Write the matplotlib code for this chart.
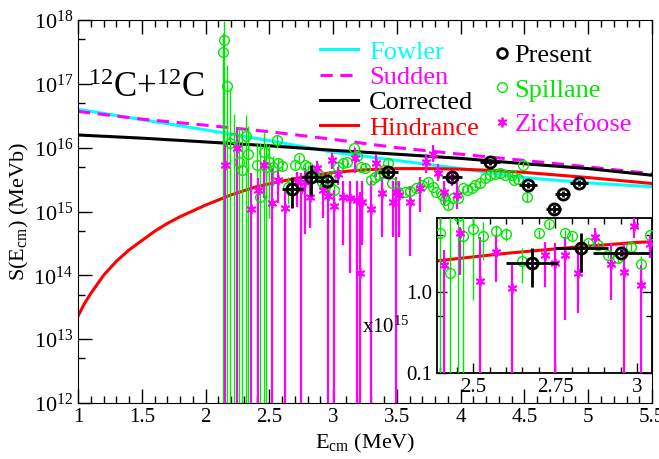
import numpy as np
import matplotlib.pyplot as plt
from matplotlib.lines import Line2D
from matplotlib.ticker import LogLocator, MultipleLocator, FormatStrFormatter, NullFormatter, FixedLocator, FixedFormatter

plt.rcParams['font.family'] = 'Liberation Serif'
plt.rcParams['mathtext.fontset'] = 'custom'
plt.rcParams['mathtext.rm'] = 'Liberation Serif'
plt.rcParams['mathtext.it'] = 'Liberation Serif:italic'

UNIT = 1e15  # all S values below are in units of 1e15 MeV b

# theory curves
fowler_e = [1.0, 1.5, 2.0, 2.5, 3.0, 3.5, 4.0, 4.5, 5.0, 5.5]
fowler_s = [40, 27.5, 19, 12.9, 8.5, 6.3, 4.7, 3.4, 2.8, 2.45]
sudden_e = [1.0, 1.5, 2.0, 2.5, 3.0, 3.5, 4.0, 4.5, 5.0, 5.5]
sudden_s = [37, 28, 22.5, 17.8, 13.5, 10, 7.9, 6.3, 5.0, 3.9]
corr_e = [1.0, 1.5, 2.0, 2.5, 3.0, 3.5, 4.0, 4.5, 5.0, 5.5]
corr_s = [15.8, 14.1, 12.3, 10.7, 9.1, 7.9, 6.8, 5.6, 4.7, 3.7]
hind_e = [1.0, 1.05, 1.1, 1.2, 1.3, 1.4, 1.5, 1.6, 1.7, 1.8, 2.0, 2.2, 2.4, 2.6, 2.8,
          3.0, 3.25, 3.5, 3.75, 4.0, 4.25, 4.5, 5.0, 5.5]
hind_s = [0.023, 0.036, 0.052, 0.10, 0.166, 0.25, 0.35, 0.49, 0.65, 0.83, 1.26, 1.82,
          2.45, 3.0, 3.55, 4.1, 4.5, 4.7, 4.7, 4.6, 4.4, 4.1, 3.4, 2.75]

# Spillane data (symmetric errors)
spil_e = [2.139, 2.147, 2.165, 2.19, 2.225, 2.26, 2.283, 2.314, 2.335, 2.40,
          2.43, 2.455, 2.47, 2.50, 2.53, 2.557, 2.57, 2.60, 2.65, 2.70,
          2.73, 2.78, 2.80, 2.85, 2.88, 2.91, 2.94, 2.98, 3.01, 3.04,
          3.08, 3.11, 3.16, 3.19, 3.22, 3.25, 3.30, 3.33, 3.36, 3.40,
          3.43, 3.46, 3.51, 3.56, 3.60, 3.65, 3.70, 3.74, 3.78, 3.81,
          3.85, 3.88, 3.90, 3.94, 3.98, 4.02, 4.05, 4.09, 4.11, 4.15,
          4.19, 4.23, 4.27, 4.31, 4.35, 4.40, 4.42, 4.45, 4.49, 4.52]
spil_s = [310, 480, 94, 12, 14, 6, 4.4, 15, 8.1, 5.4,
          1.7, 8.6, 4.9, 6.0, 4.9, 13, 5.7, 5.2, 2.4, 5.3,
          6.9, 5.3, 4.9, 4.0, 3.8, 2.9, 2.6, 3.6, 2.2, 5.0,
          5.8, 6.0, 9.8, 7.5, 5.0, 4.8, 3.1, 3.5, 3.7, 4.5,
          5.8, 2.8, 2.0, 2.0, 2.1, 2.3, 2.6, 2.9, 2.4, 2.0,
          1.8, 1.5, 1.26, 1.6, 1.6, 2.3, 2.2, 2.3, 2.6, 2.8,
          3.3, 3.7, 3.9, 4.0, 3.7, 3.7, 3.1, 3.2, 5.4, 1.7]
spil_err = [310, 480, 100, 75, 20, 15, 15, 18, 14, 7,
            10, 9, 7, 5.2, 2.4, 3, 1.1, 0.9, 1.1, 0.6,
            0.7, 0.6, 0.5, 0.4, 0.4, 0.3, 0.3, 0.4, 0.6, 0.5,
            0.6, 0.6, 1.0, 0.8, 0.5, 0.5, 0.3, 0.35, 0.4, 0.45,
            0.6, 0.3, 0.2, 0.2, 0.2, 0.25, 0.25, 0.3, 0.25, 0.2,
            0.2, 0.15, 0.15, 0.15, 0.15, 0.25, 0.2, 0.25, 0.25, 0.3,
            0.3, 0.4, 0.4, 0.4, 0.4, 0.4, 0.3, 0.3, 0.5, 0.3]

# Zickefoose data (lower / upper ends of error bars, 0 = off scale)
zick_e = [2.15, 2.25, 2.36, 2.41, 2.46, 2.52, 2.57, 2.62, 2.72, 2.75,
          2.78, 2.82, 2.87, 2.92, 2.96, 2.99, 3.01, 3.04, 3.08, 3.13,
          3.17, 3.19, 3.21, 3.23, 3.30, 3.34, 3.38, 3.47, 3.49, 3.52,
          3.60, 3.68, 3.73, 3.78, 3.82, 3.87, 3.93, 3.97]
zick_s = [5.4, 10, 1.1, 2.15, 5.4, 1.38, 3.15, 1.13, 2.9, 2.28,
          2.86, 1.71, 4.8, 2.2, 1.78, 6.5, 1.22, 3.9, 1.7, 1.6,
          7.0, 1.5, 0.11, 1.4, 1.1, 5.8, 1.95, 1.4, 2.0, 1.8,
          1.4, 2.3, 5.9, 8.1, 4.0, 2.0, 3.5, 1.8]
zick_lo = [0, 0, 0, 0, 1.6, 0, 1.34, 0, 1.16, 0,
           0.45, 0.55, 3.5, 0.8, 0, 4.6, 0, 2.6, 0.3, 0.11,
           4.0, 0, 0, 0.3, 0, 3.5, 0.4, 0.4, 0, 0.4,
           0.2, 1.0, 4.0, 6.0, 3.0, 1.2, 2.5, 1.1]
zick_hi = [12, 20, 4, 3.3, 6.4, 4.8, 5.05, 2.28, 4.2, 4.0,
           4.8, 3.3, 6.2, 4.0, 4.0, 8.2, 2.15, 5.0, 3.0, 3.0,
           10, 3.0, 2.0, 3.0, 3.0, 8.0, 3.5, 3.0, 3.5, 3.0,
           2.5, 3.5, 8.0, 11, 5.5, 3.0, 4.5, 2.8]

# present work
pres_e = [2.68, 2.83, 2.95, 3.43, 3.93, 4.23, 4.53, 4.73, 4.80, 4.93]
pres_s = [2.28, 3.5, 3.03, 4.1, 3.5, 6.0, 2.6, 1.1, 1.9, 2.8]
pres_de = [0.08, 0.08, 0.085, 0.08, 0.08, 0.08, 0.07, 0.06, 0.06, 0.07]
pres_lo = [1.15, 1.77, 2.75, 3.6, 3.1, 5.4, 2.3, 0.95, 1.7, 2.5]
pres_hi = [3.5, 5.3, 3.35, 4.6, 3.9, 6.6, 2.9, 1.25, 2.1, 3.1]

CYAN = '#00ffff'
MAG = '#ff00ff'
GREEN = '#00e800'
RED = '#ff0000'


def draw_all(ax, scale):
    ax.plot(fowler_e, np.array(fowler_s) * scale, color=CYAN, lw=2.2, zorder=2)
    ax.plot(sudden_e, np.array(sudden_s) * scale, color=MAG, lw=2.2, ls=(0, (4, 2.5)), zorder=2)
    ax.plot(corr_e, np.array(corr_s) * scale, color='black', lw=2.2, zorder=2)
    ax.plot(hind_e, np.array(hind_s) * scale, color=RED, lw=2.2, zorder=2)

    s = np.array(spil_s)
    err = np.array(spil_err)
    low = s - np.maximum(s - err, 1e-6)
    ax.errorbar(spil_e, s * scale, yerr=[low * scale, err * scale], ls='none',
                marker='o', mfc='none', mec=GREEN, ms=7, mew=1.0,
                ecolor=GREEN, elinewidth=1.0, capsize=0, zorder=3)

    z = np.array(zick_s)
    zlo = np.maximum(np.array(zick_lo), 1e-6)
    zhi = np.array(zick_hi)
    ax.errorbar(zick_e, z * scale, yerr=[(z - zlo) * scale, (zhi - z) * scale], ls='none',
                marker=(6, 2, 0), mec=MAG, mfc=MAG, ms=7, mew=1.3,
                ecolor=MAG, elinewidth=1.6, capsize=0, zorder=3)

    p = np.array(pres_s)
    ax.errorbar(pres_e, p * scale, xerr=pres_de,
                yerr=[(p - np.array(pres_lo)) * scale, (np.array(pres_hi) - p) * scale],
                ls='none', marker='o', mfc='none', mec='black', ms=8, mew=2,
                ecolor='black', elinewidth=2, capsize=0, zorder=5)


fig = plt.figure(figsize=(6.59, 4.59), dpi=100)
ax = fig.add_axes([0.1184, 0.122, 0.871, 0.8344])
ax.set_yscale('log')
draw_all(ax, UNIT)
ax.set_xlim(1, 5.5)
ax.set_ylim(1e12, 1e18)

ax.xaxis.set_major_locator(MultipleLocator(0.5))
ax.xaxis.set_minor_locator(MultipleLocator(0.1))
ax.xaxis.set_major_formatter(FormatStrFormatter('%g'))
ax.yaxis.set_major_locator(LogLocator(base=10, numticks=10))
ax.yaxis.set_minor_locator(LogLocator(base=10, subs=[5.0], numticks=10))
ax.yaxis.set_minor_formatter(NullFormatter())
ax.tick_params(which='both', direction='in', top=True, right=False, labelsize=15, width=1)
ax.tick_params(axis='y', labelsize=16)
ax.tick_params(which='major', length=10)
ax.tick_params(which='minor', length=5)
ax.set_xlabel(r'E$_{\rm cm}$ (MeV)', fontsize=16, labelpad=4)
ax.set_ylabel(r'S(E$_{\rm cm}$) (MeVb)', fontsize=16, labelpad=2)

ax.text(0.017, 0.80, r'$^{12}$C+$^{12}$C', fontsize=25, transform=ax.transAxes)

line_handles = [Line2D([], [], color=CYAN, lw=2.2),
                Line2D([], [], color=MAG, lw=2.2, ls=(0, (4, 2.5))),
                Line2D([], [], color='black', lw=2.2),
                Line2D([], [], color=RED, lw=2.2)]
leg1 = ax.legend(line_handles, ['Fowler', 'Sudden', 'Corrected', 'Hindrance'],
                 loc='upper left', bbox_to_anchor=(0.4216, 0.9475), frameon=False,
                 fontsize=19, handlelength=1.45, handletextpad=0.4, labelspacing=0.07,
                 borderpad=0, borderaxespad=0,
                 labelcolor=[CYAN, MAG, 'black', RED])
ax.add_artist(leg1)

mark_handles = [Line2D([], [], ls='none', marker='o', mfc='none', mec='black', ms=7, mew=2),
                Line2D([], [], ls='none', marker='o', mfc='none', mec=GREEN, ms=7, mew=1),
                Line2D([], [], ls='none', marker=(6, 2, 0), mfc=MAG, mec=MAG, ms=7, mew=1.3)]
ax.legend(mark_handles, ['Present', 'Spillane', 'Zickefoose'],
          loc='upper left', bbox_to_anchor=(0.7256, 0.9375), frameon=False,
          fontsize=19, handlelength=0.6, handletextpad=0.15, labelspacing=0.41,
          borderpad=0, borderaxespad=0,
          labelcolor=['black', GREEN, MAG])

# inset
ins = fig.add_axes([0.6631, 0.1874, 0.3263, 0.3377])
ins.set_yscale('log')
draw_all(ins, 1.0)
ins.set_xlim(2.39, 3.045)
ins.set_ylim(0.1, 8.2)
ins.xaxis.set_major_locator(FixedLocator([2.5, 2.75, 3.0]))
ins.xaxis.set_major_formatter(FixedFormatter(['2.5', '2.75', '3']))
ins.xaxis.set_minor_locator(MultipleLocator(0.05))
ins.yaxis.set_major_locator(FixedLocator([0.1, 1.0]))
ins.yaxis.set_major_formatter(FixedFormatter(['0.1', '1.0']))
ins.yaxis.set_minor_locator(FixedLocator([0.5, 5.0]))
ins.yaxis.set_minor_formatter(NullFormatter())
ins.tick_params(which='both', direction='in', top=True, right=True, labelsize=15, width=1)
ins.tick_params(which='major', length=7)
ins.tick_params(which='minor', length=4)
for sp in ins.spines.values():
    sp.set_linewidth(1.3)

fig.text(362 / 659, 1 - 333 / 459, r'x10$^{15}$', fontsize=15)

fig.savefig('out.png', dpi=100)
